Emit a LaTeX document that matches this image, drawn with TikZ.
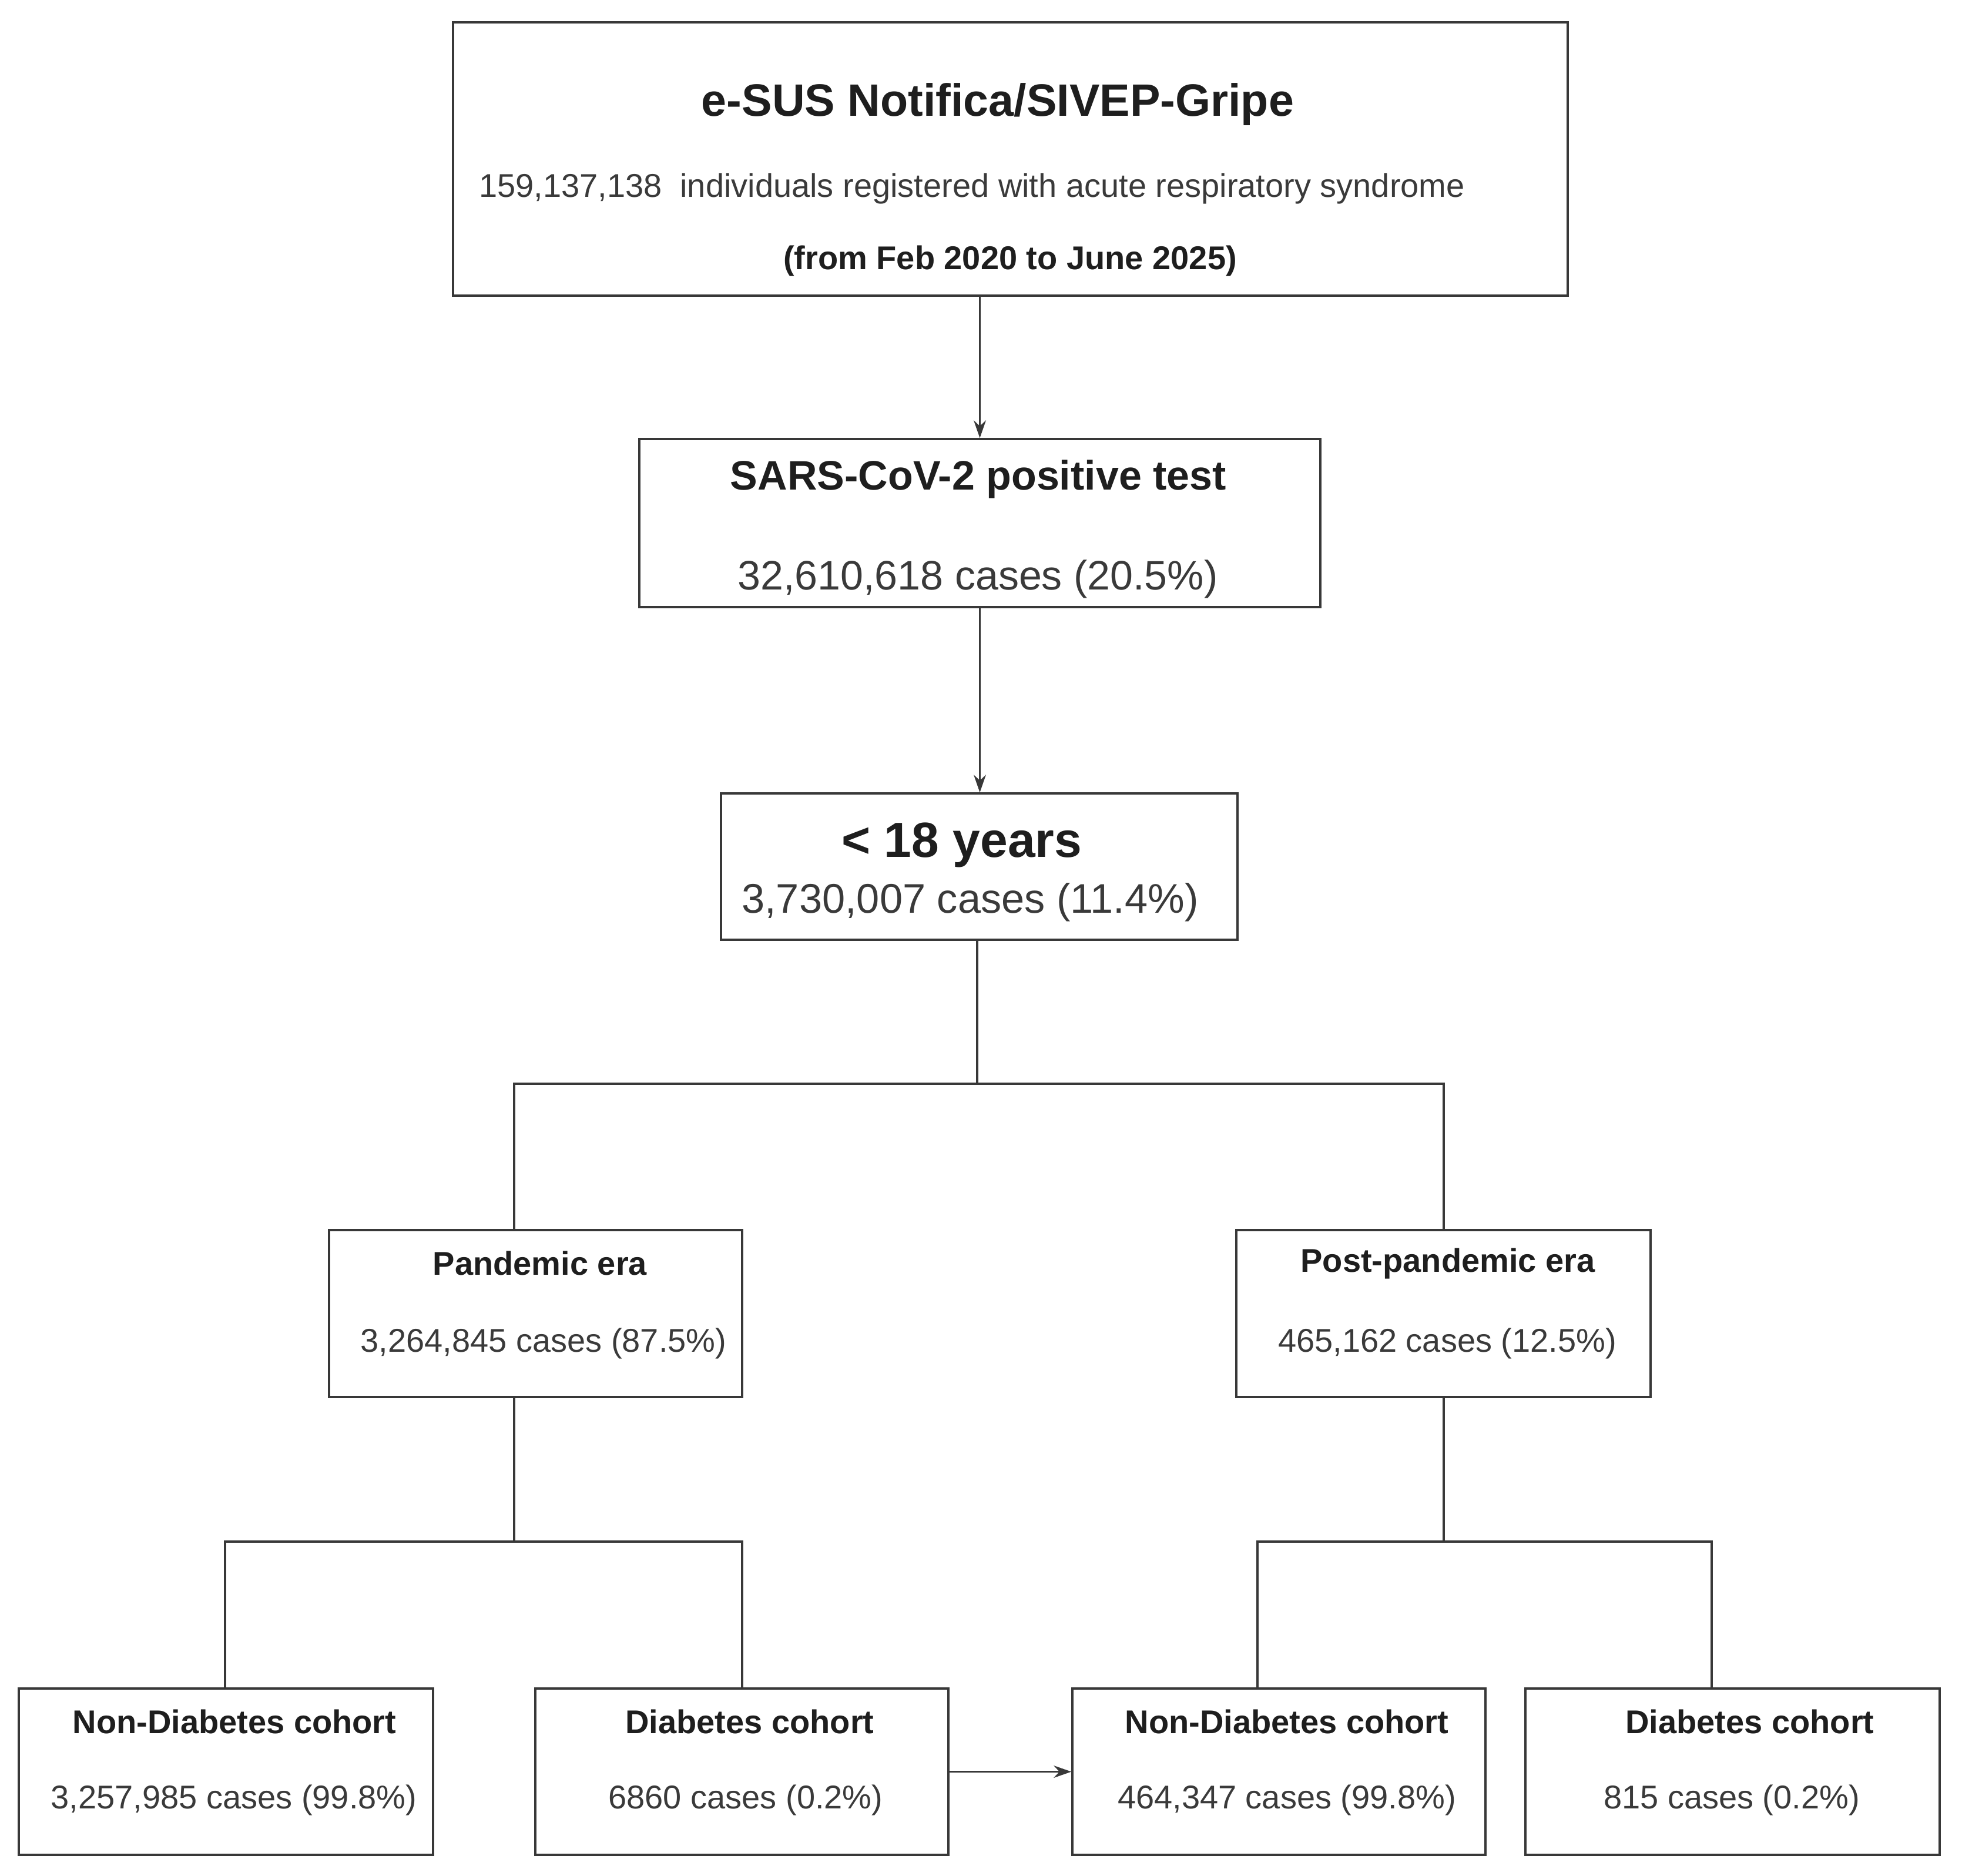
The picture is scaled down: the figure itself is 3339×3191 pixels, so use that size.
\documentclass[tikz,border=0pt]{standalone}
\usepackage{fontspec}
\setmainfont{Liberation Sans}
\usetikzlibrary{arrows.meta}
\definecolor{linec}{HTML}{383838}
\definecolor{txtreg}{HTML}{3A3A3A}
\definecolor{txtbold}{HTML}{1E1E1E}
\tikzset{
  boxnode/.style={draw=linec, line width=0.85pt, rectangle, inner sep=0pt, fill=white},
  conn/.style={draw=linec, line width=0.8pt},
  arr/.style={conn, -{Stealth[length=7.5pt,width=5.2pt]}},
  tb/.style={inner sep=0pt, font=\bfseries, text=txtbold},
  tr/.style={inner sep=0pt, text=txtreg},
}
\begin{document}
\begin{tikzpicture}[x=0.25pt,y=-0.25pt]
\useasboundingbox[fill=white] (0,0) rectangle (3339,3191);
% boxes
\node[boxnode, minimum width=474.25pt, minimum height=116.25pt] (b1) at (1719.5,270.5) {};
\node[boxnode, minimum width=289.75pt, minimum height=71.5pt] (b2) at (1667.5,890) {};
\node[boxnode, minimum width=219.75pt, minimum height=62.25pt] (b3) at (1666.5,1474.5) {};
\node[boxnode, minimum width=175.75pt, minimum height=71pt] (b4) at (911.5,2235) {};
\node[boxnode, minimum width=176.25pt, minimum height=71pt] (b5) at (2456.5,2235) {};
\node[boxnode, minimum width=176.25pt, minimum height=70.75pt] (bA) at (384.5,3014.5) {};
\node[boxnode, minimum width=175.75pt, minimum height=70.75pt] (bB) at (1262.5,3014.5) {};
\node[boxnode, minimum width=175.75pt, minimum height=70.75pt] (bC) at (2176.5,3014.5) {};
\node[boxnode, minimum width=176.25pt, minimum height=70.75pt] (bD) at (2948.5,3014.5) {};
% texts
\node[tb, font=\fontsize{19.3pt}{23pt}\selectfont\bfseries] (t1a) at (1698,178) {e-SUS Notifica/SIVEP-Gripe};
\node[tr, font=\fontsize{14pt}{17pt}\selectfont] (t1b) at (1654,321) {159,137,138\ \ individuals registered with acute respiratory syndrome};
\node[tb, font=\fontsize{14pt}{17pt}\selectfont\bfseries] (t1c) at (1719,444) {(from Feb 2020 to June 2025)};
\node[tb, font=\fontsize{17.5pt}{21pt}\selectfont\bfseries] (t2a) at (1665,815) {SARS-CoV-2 positive test};
\node[tr, font=\fontsize{17.5pt}{21pt}\selectfont] (t2b) at (1664,985) {32,610,618 cases (20.5\%)};
\node[tb, font=\fontsize{21pt}{25pt}\selectfont\bfseries] (t3a) at (1637,1438) {< 18 years};
\node[tr, font=\fontsize{17.6pt}{21pt}\selectfont] (t3b) at (1651,1535) {3,730,007 cases (11.4\%)};
\node[tb, font=\fontsize{14pt}{17pt}\selectfont\bfseries] (t4a) at (919,2149) {Pandemic era};
\node[tr, font=\fontsize{14pt}{17pt}\selectfont] (t4b) at (925,2286) {3,264,845 cases (87.5\%)};
\node[tb, font=\fontsize{14pt}{17pt}\selectfont\bfseries] (t5a) at (2464,2150) {Post-pandemic era};
\node[tr, font=\fontsize{14pt}{17pt}\selectfont] (t5b) at (2463,2286) {465,162 cases (12.5\%)};
\node[tb, font=\fontsize{14pt}{17pt}\selectfont\bfseries] (tAa) at (399,2929) {Non-Diabetes cohort};
\node[tr, font=\fontsize{14pt}{17pt}\selectfont] (tAb) at (398,3063) {3,257,985 cases (99.8\%)};
\node[tb, font=\fontsize{14pt}{17pt}\selectfont\bfseries] (tBa) at (1276,2929) {Diabetes cohort};
\node[tr, font=\fontsize{14pt}{17pt}\selectfont] (tBb) at (1269,3063) {6860 cases (0.2\%)};
\node[tb, font=\fontsize{14pt}{17pt}\selectfont\bfseries] (tCa) at (2190,2929) {Non-Diabetes cohort};
\node[tr, font=\fontsize{14pt}{17pt}\selectfont] (tCb) at (2190,3063) {464,347 cases (99.8\%)};
\node[tb, font=\fontsize{14pt}{17pt}\selectfont\bfseries] (tDa) at (2978,2929) {Diabetes cohort};
\node[tr, font=\fontsize{14pt}{17pt}\selectfont] (tDb) at (2947,3063) {815 cases (0.2\%)};
% junction coordinates
\coordinate (j3) at (1663,1844);
\coordinate (j3L) at (875,1844);
\coordinate (j3R) at (2457,1844);
\coordinate (j4) at (875,2623);
\coordinate (j4L) at (383,2623);
\coordinate (j4R) at (1263,2623);
\coordinate (j5) at (2457,2623);
\coordinate (j5L) at (2140,2623);
\coordinate (j5R) at (2913,2623);
% connectors
\draw[arr] (b1.south -| b2.north) -- (b2.north);
\draw[arr] (b2.south) -- (b3.north -| b2.south);
\draw[conn] (b3.south -| j3) -- (j3);
\draw[conn] (j3L |- b4.north) -- (j3L) -- (j3R) -- (j3R |- b5.north);
\draw[conn] (j4 |- b4.south) -- (j4);
\draw[conn] (j4L |- bA.north) -- (j4L) -- (j4R) -- (j4R |- bB.north);
\draw[conn] (j5 |- b5.south) -- (j5);
\draw[conn] (j5L |- bC.north) -- (j5L) -- (j5R) -- (j5R |- bD.north);
\draw[arr] (bB.east) -- (bC.west);
\end{tikzpicture}
\end{document}
